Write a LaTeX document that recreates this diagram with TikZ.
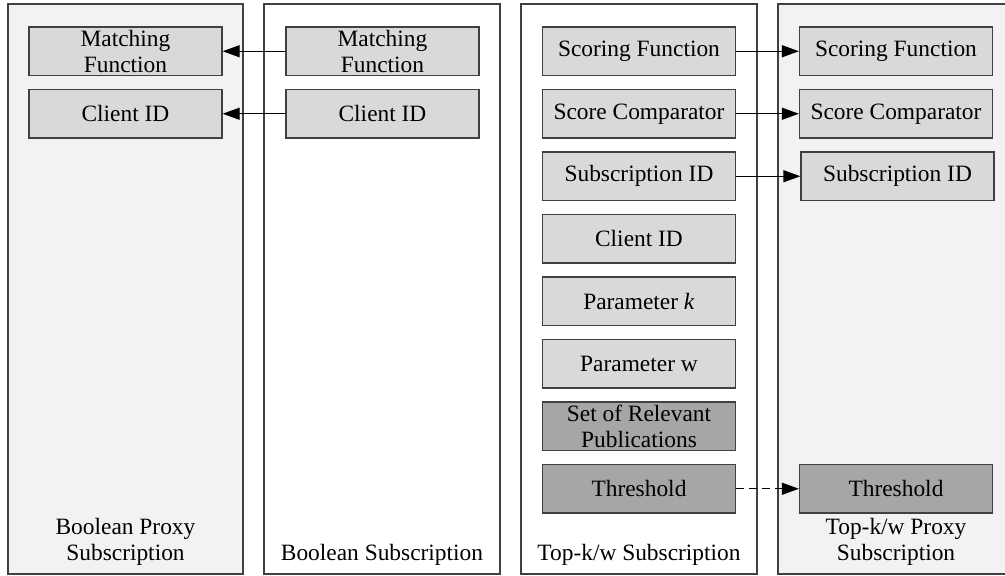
\documentclass[tikz,border=0pt]{standalone}
\usepackage{fontspec}
\setmainfont{Liberation Serif}
\usetikzlibrary{arrows.meta}
\definecolor{panelfill}{HTML}{F2F2F2}
\definecolor{boxfill}{HTML}{D9D9D9}
\definecolor{darkfill}{HTML}{A6A6A6}
\definecolor{edge}{HTML}{404040}
\begin{document}
\begin{tikzpicture}[x=1pt,y=-1pt,
  panel/.style={draw=edge,line width=1.2pt},
  field/.style={draw=edge,line width=1.2pt,fill=boxfill,minimum width=193pt,minimum height=48.5pt,inner sep=0pt,align=center,font=\fontsize{23.4}{26.5}\selectfont},
  darkfield/.style={field,fill=darkfill},
  lbl/.style={inner sep=0pt,align=center,font=\fontsize{23.4}{26.5}\selectfont},
  conn/.style={draw=black,line width=1.2pt,-{Triangle[length=17pt,width=12pt]}}]
\clip (0,0) rectangle (1005,576);
% panels
\draw[panel,fill=panelfill] (8,4) rectangle (243,574);
\draw[panel,fill=white] (264,4) rectangle (500,574);
\draw[panel,fill=white] (521,4) rectangle (757,574);
\draw[panel,fill=panelfill] (778,4) rectangle (1012,574);
% panel labels
\node[lbl] (l1) at (125.5,542) {Boolean Proxy\\Subscription};
\node[lbl] (l2) at (382,555) {Boolean Subscription};
\node[lbl] (l3) at (639,555) {Top-k/w Subscription};
\node[lbl] (l4) at (896,542) {Top-k/w Proxy\\Subscription};
% Boolean proxy
\node[field] (pmf) at (125.5,51.25) {Matching\\Function};
\node[field] (pcid) at (125.5,113.75) {Client ID};
% Boolean subscription
\node[field] (bmf) at (382.5,51.25) {Matching\\Function};
\node[field] (bcid) at (382.5,113.75) {Client ID};
% Top-k/w subscription
\node[field] (tsf) at (639,51.25) {Scoring Function};
\node[field] (tsc) at (639,113.75) {Score Comparator};
\node[field] (tsid) at (639,176.25) {Subscription ID};
\node[field] (tcid) at (639,238.75) {Client ID};
\node[field] (tk) at (639,301.25) {Parameter \textit{k}};
\node[field] (tw) at (639,363.75) {Parameter w};
\node[darkfield] (trp) at (639,426.25) {Set of Relevant\\Publications};
\node[darkfield] (tth) at (639,488.75) {Threshold};
% Top-k/w proxy
\node[field] (xsf) at (896,51.25) {Scoring Function};
\node[field] (xsc) at (896,113.75) {Score Comparator};
\node[field] (xsid) at (897.5,176.25) {Subscription ID};
\node[darkfield] (xth) at (896,488.75) {Threshold};
% connectors
\draw[conn] (bmf.west) -- (pmf.east);
\draw[conn] (bcid.west) -- (pcid.east);
\draw[conn] (tsf.east) -- (xsf.west);
\draw[conn] (tsc.east) -- (xsc.west);
\draw[conn] (tsid.east) -- (xsid.west);
\draw[conn,dash pattern=on 8pt off 5pt] (tth.east) -- (xth.west);
\end{tikzpicture}
\end{document}
